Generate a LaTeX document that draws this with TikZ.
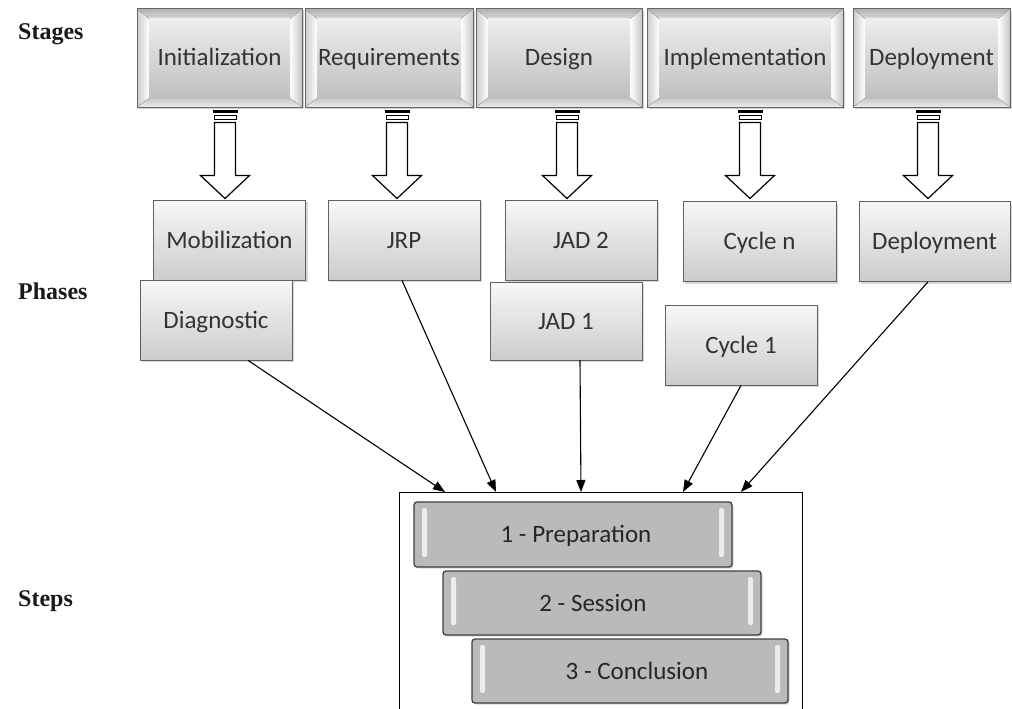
\documentclass[tikz,border=0pt]{standalone}
\usepackage{fontspec}
\setmainfont{Carlito}
\newfontfamily\lblfont{Liberation Serif}
\usetikzlibrary{shadows,arrows.meta,calc}
\tikzset{
  boxtext/.style={font=\fontsize{25}{29}\selectfont, text height=19pt, text depth=3pt},
  stagebox/.style={draw=black!60, line width=1pt, inner sep=0pt, minimum height=98pt,
    top color=gray!40, bottom color=gray!60,
    drop shadow={shadow xshift=2pt,shadow yshift=-2pt,opacity=.35},
    boxtext, text=black!80,
    path picture={
      \path (path picture bounding box.north west) coordinate (ppa)
            (path picture bounding box.south east) coordinate (ppb);
      \path (ppa|-ppb) coordinate (ppc) (ppb|-ppa) coordinate (ppd);
      \fill[top color=gray!60, bottom color=gray!30] (ppa) -- (ppd) -- ([shift={(-12pt,-10pt)}]ppd) -- ([shift={(12pt,-10pt)}]ppa) -- cycle;
      \fill[top color=gray!45, bottom color=gray!15] (ppc) -- (ppb) -- ([shift={(-12pt,9pt)}]ppb) -- ([shift={(12pt,9pt)}]ppc) -- cycle;
      \fill[left color=gray!40, right color=white] (ppa) -- ([shift={(12pt,-10pt)}]ppa) -- ([shift={(12pt,9pt)}]ppc) -- (ppc) -- cycle;
      \fill[left color=white, right color=gray!45] (ppd) -- ([shift={(-12pt,-10pt)}]ppd) -- ([shift={(-12pt,9pt)}]ppb) -- (ppb) -- cycle;
      \fill[top color=gray!14, bottom color=gray!50] ([shift={(12pt,-10pt)}]ppa) rectangle ([shift={(-12pt,9pt)}]ppb);
    }},
  phasebox/.style={draw=gray!75!black, line width=.8pt, inner sep=0pt,
    minimum width=152pt, minimum height=80pt,
    top color=gray!6, bottom color=gray!40,
    drop shadow={shadow xshift=2pt,shadow yshift=-2pt,opacity=.3},
    boxtext, text=black!80},
  stepbox/.style={draw=black!75, line width=1.3pt, rounded corners=3pt, inner sep=0pt,
    minimum width=318pt, minimum height=65pt, fill=gray!54,
    drop shadow={shadow xshift=1.5pt,shadow yshift=-1.5pt,opacity=.3},
    boxtext, text=black!85,
    path picture={
      \path (path picture bounding box.north west) coordinate (ppa)
            (path picture bounding box.south east) coordinate (ppb);
      \path (ppa|-ppb) coordinate (ppc) (ppb|-ppa) coordinate (ppd);
      \fill[white!85!gray, rounded corners=2pt] ([shift={(8pt,-6pt)}]ppa) rectangle ([shift={(13pt,10pt)}]ppc);
      \fill[white!85!gray, rounded corners=2pt] ([shift={(-13pt,-6pt)}]ppd) rectangle ([shift={(-8pt,10pt)}]ppb);
    }},
  frame/.style={draw=black, line width=1pt, inner sep=0pt},
  lbl/.style={font=\lblfont\bfseries\fontsize{24}{28}\selectfont, text=black!90, inner sep=0pt, anchor=base west},
  conn/.style={line width=1.1pt, -{Triangle[length=12pt,width=9pt]}},
}
\newcommand\BlockArrow[2]{%
  \begin{scope}[shift={([xshift=#2pt]#1.south)}]
    \fill[black] (-12.5,2) rectangle (12.5,5);
    \draw[fill=white,line width=1pt] (-11,7.5) rectangle (11,12);
    \draw[fill=white,line width=1.2pt] (-10.5,15) -- (10.5,15) -- (10.5,68) -- (24.5,68)
      -- (0,91) -- (-24.5,68) -- (-10.5,68) -- cycle;
  \end{scope}}
\begin{document}
\begin{tikzpicture}[x=1pt,y=-1pt]
\useasboundingbox (0,0) rectangle (1012,709);
\clip (0,0) rectangle (1012,709);
\fill[white] (0,0) rectangle (1012,709);

% labels
\node[lbl] (lstages) at (18,40) {Stages};
\node[lbl] (lphases) at (18,299) {Phases};
\node[lbl] (lsteps) at (18,606) {Steps};

% stages
\node[stagebox, minimum width=165pt] (init) at (219.5,58) {Initialization};
\node[stagebox, minimum width=168pt] (req) at (389,58) {Requirements};
\node[stagebox, minimum width=166pt] (des) at (559,58) {Design};
\node[stagebox, minimum width=196pt] (impl) at (745,58) {Implementation};
\node[stagebox, minimum width=157pt] (depl) at (931.5,58) {Deployment};

% block arrows
\BlockArrow{init}{5.5}
\BlockArrow{req}{8}
\BlockArrow{des}{8}
\BlockArrow{impl}{5}
\BlockArrow{depl}{-3.5}

% phases
\node[phasebox] (mob) at (229.5,240) {Mobilization};
\node[phasebox] (diag) at (216,320) {Diagnostic};
\node[phasebox] (jrp) at (404,240) {JRP};
\node[phasebox] (jad2) at (581,240) {JAD 2};
\node[phasebox, minimum height=78pt] (jad1) at (566,321) {JAD 1};
\node[phasebox, minimum width=153pt] (cyn) at (759.5,241.5) {Cycle n};
\node[phasebox, minimum width=151pt] (pdep) at (934.5,241.5) {Deployment};
\node[phasebox] (cy1) at (741,345) {Cycle 1};

% steps
\node[frame, minimum width=403pt, minimum height=230pt, anchor=north] (stepsframe) at (600.5,492) {};
\node[stepbox] (prep) at (573,534.5) {\hspace*{6pt}1 - Preparation};
\node[stepbox, minimum height=64pt] (sess) at (602,603) {2 - Session\hspace*{18pt}};
\node[stepbox, minimum width=316pt, minimum height=64pt] (concl) at (630,671) {\hspace*{14pt}3 - Conclusion};

% connectors
\draw[conn] ([xshift=32pt]diag.south) -- ([xshift=-155.5pt]stepsframe.north);
\draw[conn] ([xshift=-2pt]jrp.south) -- ([xshift=-104.5pt]stepsframe.north);
\draw[conn] ([xshift=14pt]jad1.south) -- ([xshift=-19.5pt]stepsframe.north);
\draw[conn] (cy1.south) -- ([xshift=82.5pt]stepsframe.north);
\draw[conn] ([xshift=-6.5pt]pdep.south) -- ([xshift=140.5pt]stepsframe.north);
\end{tikzpicture}
\end{document}
